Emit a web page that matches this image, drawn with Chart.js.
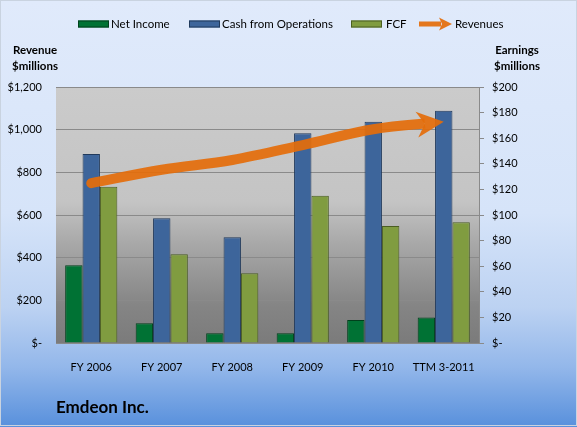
<!DOCTYPE html>
<html><head><meta charset="utf-8">
<script src="https://cdn.jsdelivr.net/npm/chart.js@4.4.0/dist/chart.umd.min.js"></script>
<style>html,body{margin:0;padding:0;background:#fff;}canvas{display:block;}</style>
</head><body>
<canvas id="c" width="577" height="427"></canvas>
<script>
// ---- data ----
const categories = ['FY 2006', 'FY 2007', 'FY 2008', 'FY 2009', 'FY 2010', 'TTM 3-2011'];
const netIncome = [60.7, 15.4, 7.6, 7.6, 18, 20];
const cashFromOps = [147.6, 97.4, 82.6, 163.8, 172.9, 181.5];
const fcf = [122, 69.3, 54.4, 115, 91.4, 94.3];
const revenues = [749, 812, 858, 928, 1002, 1037];
const leftTickLabels = ['$-', '$200', '$400', '$600', '$800', '$1,000', '$1,200'];
const rightTickLabels = ['$-', '$20', '$40', '$60', '$80', '$100', '$120', '$140', '$160', '$180', '$200'];
const seriesNames = ['Net Income', 'Cash from Operations', 'FCF', 'Revenues'];
const chartTitle = 'Emdeon Inc.';
const leftTitle = ['Revenue', '$millions'];
const rightTitle = ['Earnings', '$millions'];

const FONT = 'Lato';
const ORANGE = 'rgba(228,108,10,0.92)';
const LEGEND_X = [78, 189, 351, 419];

const bgPlugin = {
  id: 'bg',
  beforeDraw(chart) {
    const {ctx, width, height, chartArea: a} = chart;
    ctx.save();
    let g = ctx.createLinearGradient(0, 0, 0, height);
    g.addColorStop(0, '#e0eafb');
    g.addColorStop(0.5, '#d6e4f9');
    g.addColorStop(0.72, '#bcd2f2');
    g.addColorStop(0.86, '#93b7ea');
    g.addColorStop(1, '#5890dc');
    ctx.fillStyle = g;
    ctx.fillRect(0, 0, width, height);
    ctx.strokeStyle = '#c9d3e0';
    ctx.lineWidth = 1;
    ctx.strokeRect(0.5, 0.5, width - 1, height - 2);
    g = ctx.createLinearGradient(0, a.top, 0, a.bottom);
    g.addColorStop(0, '#cbcbcb');
    g.addColorStop(0.45, '#c4c4c4');
    g.addColorStop(0.6, '#aaaaaa');
    g.addColorStop(0.85, '#858585');
    g.addColorStop(1, '#7b7b7b');
    ctx.fillStyle = g;
    ctx.fillRect(a.left, a.top, a.right - a.left, a.bottom - a.top);
    ctx.restore();
  }
};

function arrowGeom(chart) {
  const meta = chart.getDatasetMeta(3);
  const pts = meta.data;
  const last = pts[pts.length - 1];
  let dx = last.x - (last.cp1x ?? pts[pts.length - 2].x);
  let dy = last.y - (last.cp1y ?? pts[pts.length - 2].y);
  const len = Math.hypot(dx, dy) || 1;
  dx /= len; dy /= len;
  return {tip: {x: last.x, y: last.y}, dx, dy, nx: -dy, ny: dx};
}

const arrowPlugin = {
  id: 'arrow',
  beforeDatasetDraw(chart, args) {
    if (args.index !== 3) return;
    const {tip, dx, dy, nx, ny} = arrowGeom(chart);
    const ctx = chart.ctx;
    const N = {x: tip.x - dx * 19, y: tip.y - dy * 19};
    ctx.save();
    ctx.beginPath();
    ctx.moveTo(N.x + nx * 2000, N.y + ny * 2000);
    ctx.lineTo(N.x + nx * 2000 - dx * 3000, N.y + ny * 2000 - dy * 3000);
    ctx.lineTo(N.x - nx * 2000 - dx * 3000, N.y - ny * 2000 - dy * 3000);
    ctx.lineTo(N.x - nx * 2000, N.y - ny * 2000);
    ctx.closePath();
    ctx.clip();
  },
  afterDatasetDraw(chart, args) {
    if (args.index !== 3) return;
    const ctx = chart.ctx;
    ctx.restore();
    const {tip, dx, dy, nx, ny} = arrowGeom(chart);
    const L = 27, W = 13, notch = 19;
    ctx.save();
    ctx.fillStyle = ORANGE;
    ctx.beginPath();
    ctx.moveTo(tip.x, tip.y);
    ctx.lineTo(tip.x - dx * L + nx * W, tip.y - dy * L + ny * W);
    ctx.lineTo(tip.x - dx * notch, tip.y - dy * notch);
    ctx.lineTo(tip.x - dx * L - nx * W, tip.y - dy * L - ny * W);
    ctx.closePath();
    ctx.fill();
    ctx.restore();
  }
};

const overlayPlugin = {
  id: 'overlay',
  afterDraw(chart) {
    const ctx = chart.ctx;
    ctx.save();
    // legend
    ctx.font = '11.5px ' + FONT;
    ctx.textBaseline = 'middle';
    ctx.textAlign = 'left';
    const ly = 24;
    const ds = chart.data.datasets;
    for (let i = 0; i < ds.length; i++) {
      let x = LEGEND_X[i];
      if (i < 3) {
        ctx.fillStyle = ds[i].backgroundColor;
        ctx.fillRect(x, ly - 3.5, 31, 7);
        ctx.strokeStyle = ds[i].borderColor;
        ctx.lineWidth = 1;
        ctx.strokeRect(x + 0.5, ly - 3, 30, 6);
        x += (i === 2 ? 35 : 33);
      } else {
        ctx.fillStyle = ORANGE;
        ctx.fillRect(x, ly - 2.5, 22, 5);
        ctx.beginPath();
        ctx.moveTo(x + 33, ly);
        ctx.lineTo(x + 20, ly - 6.5);
        ctx.lineTo(x + 23, ly);
        ctx.lineTo(x + 20, ly + 6.5);
        ctx.closePath();
        ctx.fill();
        x += 36;
      }
      ctx.fillStyle = '#000';
      ctx.fillText(ds[i].label, x, ly);
    }
    // axis titles
    ctx.font = 'bold 11.5px ' + FONT;
    ctx.textAlign = 'center';
    ctx.fillText(leftTitle[0], 35, 50);
    ctx.fillText(leftTitle[1], 35, 66);
    ctx.fillText(rightTitle[0], 517, 50);
    ctx.fillText(rightTitle[1], 517, 66);
    // chart title
    ctx.font = 'bold 17px ' + FONT;
    ctx.textAlign = 'left';
    ctx.fillText(chartTitle, 56, 408);
    ctx.restore();
  }
};

Chart.defaults.font.family = FONT;
Chart.defaults.font.size = 11;
Chart.defaults.color = '#000';

new Chart(document.getElementById('c'), {
  data: {
    labels: categories,
    datasets: [
      {type: 'bar', label: seriesNames[0], data: netIncome, yAxisID: 'yR', order: 1,
       backgroundColor: '#007234', borderColor: '#00401c', borderWidth: 1},
      {type: 'bar', label: seriesNames[1], data: cashFromOps, yAxisID: 'yR', order: 1,
       backgroundColor: '#3d659b', borderColor: '#213a5c', borderWidth: 1},
      {type: 'bar', label: seriesNames[2], data: fcf, yAxisID: 'yR', order: 1,
       backgroundColor: '#809c40', borderColor: '#4b5e22', borderWidth: 1},
      {type: 'line', label: seriesNames[3], data: revenues, yAxisID: 'yL', order: 0,
       borderColor: ORANGE, borderWidth: 10, tension: 0.35, pointRadius: 0,
       borderCapStyle: 'round', borderJoinStyle: 'round', fill: false}
    ]
  },
  options: {
    responsive: false,
    devicePixelRatio: 1,
    animation: false,
    layout: {padding: {top: 87, left: 0, right: 0, bottom: 0}},
    datasets: {bar: {categoryPercentage: 0.74, barPercentage: 1}},
    plugins: {legend: {display: false}, tooltip: {enabled: false}, title: {display: false}},
    scales: {
      x: {
        grid: {display: false},
        border: {display: true, color: '#8a8a8a', width: 1},
        ticks: {padding: 10, color: '#000', maxRotation: 0},
        afterFit(s) { s.height = 84; }
      },
      yL: {
        position: 'left', min: 0, max: 1200,
        grid: {color: '#8a8a8a', drawTicks: false},
        border: {display: false},
        ticks: {stepSize: 200, padding: 14, color: '#000',
                callback: (v) => leftTickLabels[Math.round(v / 200)]},
        afterFit(s) { s.width = 56; }
      },
      yR: {
        position: 'right', min: 0, max: 200,
        grid: {drawOnChartArea: false, color: '#8a8a8a', tickLength: 5},
        border: {display: true, color: '#8a8a8a'},
        ticks: {stepSize: 20, padding: 8, color: '#000',
                callback: (v) => rightTickLabels[Math.round(v / 20)]},
        afterFit(s) { s.width = 98; }
      }
    }
  },
  plugins: [bgPlugin, arrowPlugin, overlayPlugin]
});
</script>
</body></html>
